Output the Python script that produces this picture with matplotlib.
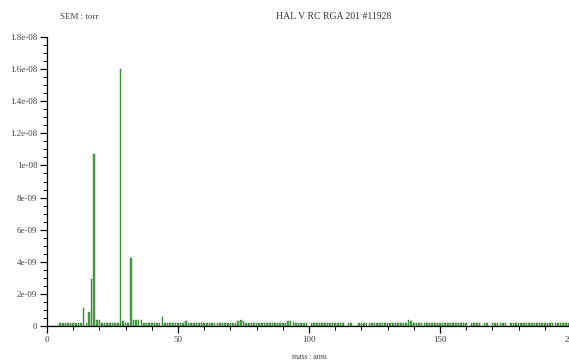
import numpy as np

import matplotlib
import matplotlib.pyplot as plt
from matplotlib.ticker import MultipleLocator, FuncFormatter

matplotlib.use('Agg')

plt.rcParams['font.family'] = 'Liberation Serif'

# Partial pressure per mass (units of 1e-9 torr), masses 1..200, 0 = no bar
masses = np.arange(1, 201)
pressure_e9 = [
    0, 0, 0, 0, 0.2, 0.2, 0.2, 0.2, 0.2, 0.2,              # 1-10
    0.2, 0.2, 0.2, 1.1, 0.2, 0.9, 2.95, 10.7, 0.35, 0.35,  # 11-20
    0.2, 0.2, 0.2, 0.2, 0.2, 0.2, 0.2, 16.0, 0.33, 0.2,    # 21-30
    0.2, 4.25, 0.35, 0.35, 0.35, 0.35, 0.2, 0.2, 0.2, 0.2,  # 31-40
    0.2, 0.2, 0.2, 0.58, 0.2, 0.2, 0.2, 0.2, 0.2, 0.2,     # 41-50
    0.2, 0.2, 0.33, 0.2, 0.2, 0.2, 0.2, 0.2, 0.2, 0.2,     # 51-60
    0.2, 0.2, 0.2, 0.2, 0.2, 0.2, 0.2, 0.2, 0.2, 0.2,      # 61-70
    0.2, 0.2, 0.33, 0.35, 0.3, 0.2, 0.2, 0.2, 0.2, 0.2,    # 71-80
    0.2, 0.2, 0.2, 0.2, 0.2, 0.2, 0.2, 0.2, 0.2, 0.2,      # 81-90
    0.2, 0.3, 0.3, 0.28, 0.2, 0.2, 0.2, 0.2, 0.2, 0,       # 91-100
    0.2, 0.2, 0.2, 0.2, 0.2, 0.2, 0.2, 0.2, 0.2, 0.2,      # 101-110
    0.2, 0.2, 0.2, 0, 0.2, 0.2, 0, 0, 0.2, 0.2,            # 111-120
    0.2, 0.2, 0.2, 0.2, 0.2, 0.2, 0.2, 0.2, 0.2, 0.2,      # 121-130
    0.2, 0.2, 0.2, 0.2, 0.2, 0.2, 0.2, 0.35, 0.3, 0.2,     # 131-140
    0.2, 0.2, 0.2, 0.2, 0.2, 0.2, 0.2, 0.2, 0.2, 0.2,      # 141-150
    0.2, 0.2, 0.2, 0.2, 0.2, 0.2, 0.2, 0.2, 0.2, 0.2,      # 151-160
    0, 0.2, 0.2, 0.2, 0.2, 0, 0.2, 0.2, 0, 0.2,            # 161-170
    0.2, 0.2, 0.2, 0.2, 0.2, 0, 0.2, 0.2, 0.2, 0.2,        # 171-180
    0.2, 0.2, 0.2, 0.2, 0.2, 0.2, 0.2, 0.2, 0.2, 0.2,      # 181-190
    0.2, 0.2, 0.2, 0.2, 0.2, 0.2, 0.2, 0.2, 0.2, 0.2,      # 191-200
]
pressure = np.array(pressure_e9) * 1e-9

bar_colour = '#48a048'
text_colour = '#444444'

fig = plt.figure(figsize=(5.69, 3.62), dpi=100)
ax = fig.add_axes([0.0826, 0.0994, 0.921, 0.7984])

ax.bar(masses, pressure, width=0.6, color=bar_colour, edgecolor='#2f7f2f', linewidth=0.3)

ax.set_xlim(0, 200)
ax.set_ylim(0, 1.8e-8)

ax.spines[['top', 'right']].set_visible(False)
ax.spines[['left', 'bottom']].set_linewidth(0.9)

ax.xaxis.set_major_locator(MultipleLocator(50))
ax.xaxis.set_minor_locator(MultipleLocator(10))
ax.yaxis.set_major_locator(MultipleLocator(2e-9))
ax.yaxis.set_minor_locator(MultipleLocator(5e-10))
ax.yaxis.set_major_formatter(FuncFormatter(lambda v, p: '%g' % float('%.3g' % v)))

ax.tick_params(which='major', length=5, width=0.9, labelsize=6.5, labelcolor=text_colour, pad=2)
ax.tick_params(which='minor', length=3, width=0.7)

fig.text(0.14, 0.952, 'SEM : torr', fontsize=6.5, color=text_colour, ha='center', va='center')
fig.text(0.587, 0.955, 'HAL V RC RGA 201 #11928', fontsize=7, color='#333333', ha='center', va='center')
fig.text(0.543, 0.014, 'mass : amu', fontsize=5.5, color=text_colour, ha='center', va='center')

plt.savefig('out.png', dpi=100)
